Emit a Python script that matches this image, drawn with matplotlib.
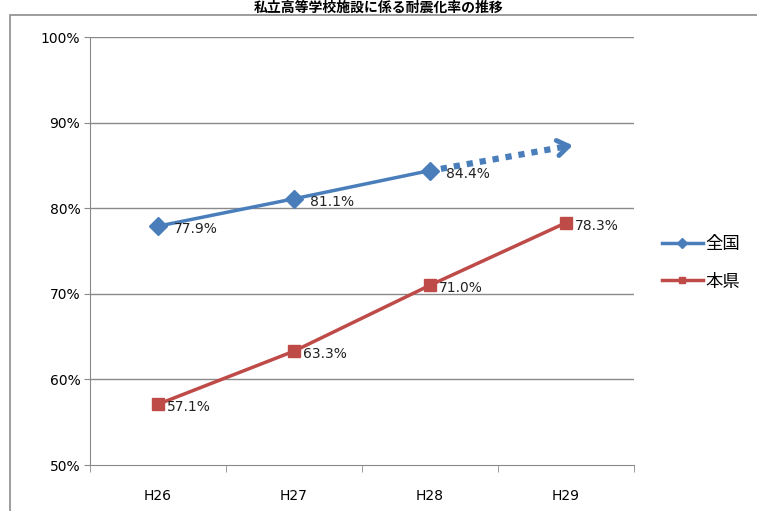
import matplotlib.pyplot as plt
from matplotlib.patches import Rectangle

plt.rcParams['font.family'] = ['DejaVu Sans', 'Noto Sans CJK JP']

years = ['H26', 'H27', 'H28', 'H29']
zenkoku = [77.9, 81.1, 84.4]
honken = [57.1, 63.3, 71.0, 78.3]
# dotted trend arrow for 全国 (from H28 towards H29)
arrow_start = (2.08, 84.6)
arrow_end = (3.07, 87.4)
# NOTE: the title is cut off at the top edge of the reference image; only the
# bottoms of the glyphs show. This wording is a best guess, not a reading.
title = '私立高等学校施設に係る耐震化率の推移'

blue = '#4A7EBB'
red = '#BE4B48'

fig = plt.figure(figsize=(7.57, 5.11), dpi=100)

# outer chart frame
fig.patches.append(Rectangle((10 / 757, -0.2), 1.2, 1 - 15 / 511 + 0.2,
                             transform=fig.transFigure, fill=False,
                             edgecolor='#8c8c8c', lw=1.2))
fig.text(0.5, 1 - 1 / 511, title, ha='center', va='top', fontsize=10,
         fontweight='bold', color='black', family=['Noto Sans CJK JP'])

ax = fig.add_axes([90 / 757, 1 - 465 / 511, 544 / 757, 428 / 511])
ax.set_xlim(-0.5, 3.5)
ax.set_ylim(50, 100)

for y in range(60, 101, 10):
    ax.axhline(y, color='#8a8a8a', lw=1, zorder=0)

x1 = list(range(len(zenkoku)))
x2 = list(range(len(honken)))
ax.plot(x1, zenkoku, color=blue, lw=2.5, marker='D', ms=9, label='全国', zorder=3)
ax.plot(x2, honken, color=red, lw=2.5, marker='s', ms=9, label='本県', zorder=3)

for xi, v in zip(x1, zenkoku):
    ax.annotate(f'{v:.1f}%', (xi, v), xytext=(16, -3), textcoords='offset pixels',
                ha='left', va='center', fontsize=10, color='#222222')
for xi, v in zip(x2, honken):
    ax.annotate(f'{v:.1f}%', (xi, v), xytext=(9, -3), textcoords='offset pixels',
                ha='left', va='center', fontsize=10, color='#222222')

# dotted arrow
ax.plot([arrow_start[0], arrow_end[0] - 0.04], [arrow_start[1], arrow_end[1] - 0.1],
        color=blue, lw=4.5, linestyle=(0, (1, 1.1)), zorder=4)
ax.annotate('', xy=arrow_end, xytext=(arrow_end[0] - 0.1, arrow_end[1] - 0.28),
            arrowprops=dict(arrowstyle='->,head_length=0.8,head_width=0.55',
                            color=blue, lw=3.5), zorder=4)

ax.set_yticks(range(50, 101, 10))
ax.set_yticklabels([f'{y}%' for y in range(50, 101, 10)], fontsize=10)
ax.set_xticks(x2)
ax.set_xticklabels(years, fontsize=10)
ax.set_xticks([-0.5, 0.5, 1.5, 2.5, 3.5], minor=True)
ax.tick_params(axis='x', which='major', length=0, pad=17)
ax.tick_params(axis='x', which='minor', length=5, direction='out', color='#8a8a8a')
ax.tick_params(axis='y', length=4, direction='out', color='#8a8a8a', pad=3)

for s in ['top', 'right']:
    ax.spines[s].set_visible(False)
for s in ['left', 'bottom']:
    ax.spines[s].set_color('#8a8a8a')

fig.legend(loc='center left', bbox_to_anchor=(646 / 757, 1 - 263 / 511),
           frameon=False, fontsize=12.5, handlelength=2.4, handletextpad=0.1,
           labelspacing=1.1, markerscale=0.55)

fig.savefig('out.png', dpi=100)
